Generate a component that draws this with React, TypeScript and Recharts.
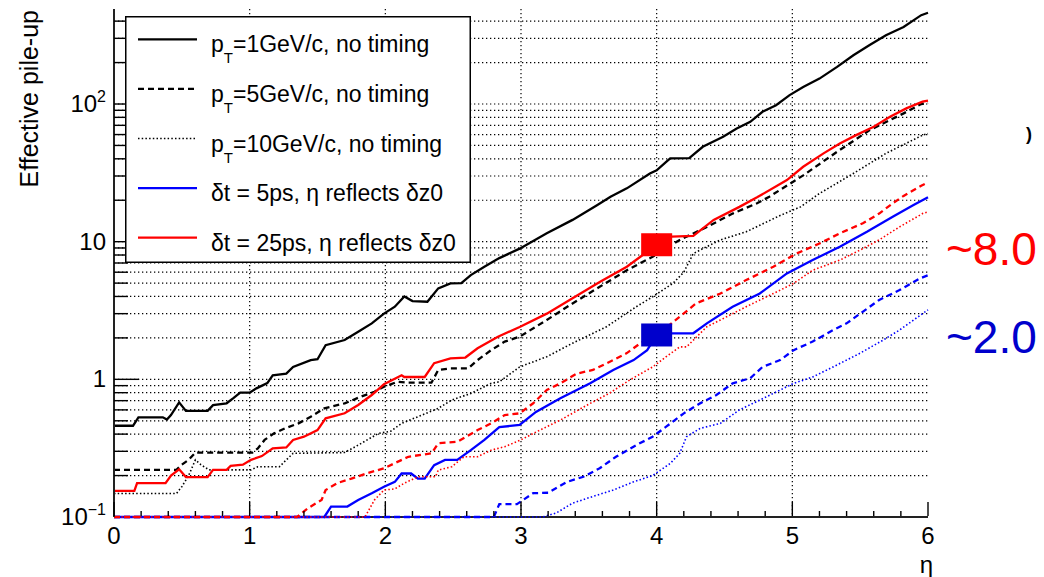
import { ComposedChart, Line, Scatter, XAxis, YAxis, CartesianGrid, Legend } from 'recharts';

const FONT = '"Liberation Sans", Arial, Helvetica, sans-serif';

// plot frame in page pixels (used only for tick / label placement)
const PLOT = { left: 114, right: 928, top: 9, bottom: 517 };

// [eta, effective pile-up]
const k1: [number, number][] = [
  [0, 0.46], [0.14, 0.46], [0.18, 0.53], [0.36, 0.53], [0.39, 0.51], [0.42, 0.55], [0.48, 0.68],
  [0.53, 0.59], [0.69, 0.59], [0.73, 0.65], [0.83, 0.67], [0.88, 0.73], [0.93, 0.8], [1.0, 0.8],
  [1.05, 0.86], [1.13, 0.94], [1.17, 1.07], [1.27, 1.1], [1.32, 1.23], [1.45, 1.38], [1.5, 1.4],
  [1.56, 1.77], [1.7, 1.93], [1.8, 2.22], [1.9, 2.55], [1.99, 3.0], [2.07, 3.37], [2.14, 4.0],
  [2.2, 3.7], [2.31, 3.66], [2.39, 4.58], [2.48, 4.98], [2.56, 5.0], [2.63, 5.72], [2.73, 6.58],
  [2.84, 7.6], [2.99, 8.9], [3.19, 11.5], [3.38, 14.4], [3.56, 18.4], [3.66, 21.2], [3.78, 24.4],
  [3.95, 31.3], [4.0, 33], [4.07, 38], [4.1, 40.3], [4.24, 40.5], [4.34, 48.9], [4.49, 57.8],
  [4.59, 66.5], [4.69, 74.3], [4.78, 87.8], [4.88, 98], [4.98, 116], [5.08, 133], [5.2, 153],
  [5.33, 186], [5.45, 226], [5.57, 268], [5.69, 316], [5.82, 363], [5.95, 442], [6.0, 460],
];
const k5: [number, number][] = [
  [0, 0.22], [0.46, 0.22], [0.5, 0.24], [0.55, 0.26], [0.6, 0.294], [1.02, 0.294], [1.06, 0.315],
  [1.11, 0.363], [1.18, 0.405], [1.26, 0.44], [1.36, 0.479], [1.45, 0.535], [1.55, 0.616],
  [1.7, 0.669], [1.82, 0.748], [1.92, 0.813], [1.99, 0.884], [2.09, 0.96], [2.17, 0.945],
  [2.34, 0.945], [2.39, 1.17], [2.48, 1.2], [2.61, 1.2], [2.68, 1.38], [2.78, 1.63], [2.88, 1.88],
  [2.99, 2.04], [3.19, 2.7], [3.38, 3.56], [3.58, 4.7], [3.78, 6.2], [3.97, 7.77], [4.17, 10.3],
  [4.37, 12.8], [4.56, 16], [4.74, 19], [4.83, 21.2], [5.08, 30.3], [5.33, 45], [5.57, 64.6],
  [5.82, 85.5], [5.95, 100], [6.0, 102],
];
const k10: [number, number][] = [
  [0, 0.148], [0.46, 0.148], [0.5, 0.166], [0.55, 0.2], [0.6, 0.26], [0.64, 0.24], [0.7, 0.22],
  [1.01, 0.22], [1.06, 0.232], [1.22, 0.232], [1.27, 0.26], [1.32, 0.29], [1.7, 0.294],
  [1.8, 0.333], [1.95, 0.405], [2.04, 0.42], [2.12, 0.479], [2.24, 0.535], [2.39, 0.616],
  [2.49, 0.707], [2.63, 0.79], [2.78, 0.935], [2.84, 0.96], [2.99, 1.23], [3.19, 1.46],
  [3.38, 1.83], [3.63, 2.41], [3.85, 3.37], [3.97, 3.98], [4.12, 4.98], [4.2, 6.0], [4.27, 8.2],
  [4.35, 9.0], [4.47, 10.3], [4.66, 11.8], [4.91, 15.5], [5.06, 17.9], [5.2, 22.4], [5.45, 31.3],
  [5.69, 43.8], [5.96, 59.4], [6.0, 61],
];
const b1: [number, number][] = [
  [0, 0.1], [1.55, 0.1], [1.6, 0.119], [1.72, 0.119], [1.8, 0.133], [1.9, 0.149], [1.99, 0.166],
  [2.07, 0.18], [2.12, 0.207], [2.19, 0.207], [2.24, 0.19], [2.29, 0.19], [2.36, 0.238],
  [2.44, 0.26], [2.53, 0.26], [2.63, 0.306], [2.73, 0.363], [2.84, 0.45], [2.99, 0.466],
  [3.11, 0.58], [3.29, 0.728], [3.51, 0.935], [3.68, 1.17], [3.83, 1.38], [3.93, 1.63],
  [4.0, 2.1], [4.11, 2.16], [4.27, 2.16], [4.37, 2.55], [4.56, 3.37], [4.76, 4.2], [4.96, 5.88],
  [5.15, 7.35], [5.35, 9.2], [5.55, 11.8], [5.74, 15.2], [5.89, 18.4], [6.0, 21],
];
const b5: [number, number][] = [
  [0, 0.1], [2.8, 0.1], [2.84, 0.124], [2.97, 0.124], [3.09, 0.149], [3.2, 0.15], [3.34, 0.18],
  [3.46, 0.196], [3.58, 0.226], [3.7, 0.274], [3.85, 0.333], [3.97, 0.383], [4.07, 0.453],
  [4.2, 0.566], [4.32, 0.669], [4.44, 0.769], [4.56, 0.935], [4.69, 1.02], [4.78, 1.23],
  [4.91, 1.38], [5.01, 1.63], [5.15, 1.88], [5.3, 2.28], [5.4, 2.55], [5.64, 3.77], [5.79, 4.45],
  [5.94, 5.41], [6.0, 5.7],
];
const b10: [number, number][] = [
  [0, 0.1], [3.16, 0.1], [3.26, 0.107], [3.38, 0.126], [3.53, 0.141], [3.68, 0.157], [3.83, 0.18],
  [3.97, 0.2], [4.1, 0.245], [4.17, 0.29], [4.22, 0.383], [4.32, 0.44], [4.47, 0.479],
  [4.61, 0.6], [4.76, 0.707], [4.91, 0.836], [5.01, 0.935], [5.15, 1.04], [5.3, 1.23],
  [5.5, 1.55], [5.67, 1.93], [5.79, 2.28], [6.0, 3.2],
];
const r1: [number, number][] = [
  [0, 0.155], [0.15, 0.155], [0.17, 0.176], [0.38, 0.176], [0.42, 0.2], [0.48, 0.222],
  [0.53, 0.195], [0.69, 0.195], [0.73, 0.22], [0.83, 0.22], [0.86, 0.235], [0.95, 0.24],
  [1.01, 0.26], [1.09, 0.277], [1.17, 0.315], [1.27, 0.32], [1.32, 0.363], [1.4, 0.383],
  [1.5, 0.428], [1.56, 0.521], [1.7, 0.567], [1.8, 0.651], [1.9, 0.769], [1.99, 0.92],
  [2.12, 1.07], [2.14, 1.04], [2.29, 1.04], [2.36, 1.31], [2.48, 1.42], [2.59, 1.44],
  [2.68, 1.68], [2.83, 2.04], [2.99, 2.4], [3.19, 3.0], [3.38, 3.88], [3.58, 5.1], [3.78, 6.58],
  [3.88, 7.77], [4.0, 9.5], [4.11, 10.9], [4.27, 11.0], [4.42, 14.4], [4.61, 17.9], [4.74, 21],
  [4.96, 28], [5.08, 35], [5.23, 43.8], [5.35, 51.7], [5.47, 59.4], [5.6, 68.3], [5.72, 80.7],
  [5.84, 92.9], [5.96, 104], [6.0, 106],
];
const r5: [number, number][] = [
  [0, 0.1], [1.35, 0.1], [1.43, 0.116], [1.53, 0.133], [1.56, 0.157], [1.65, 0.177], [1.75, 0.19],
  [1.86, 0.207], [1.99, 0.226], [2.17, 0.274], [2.34, 0.29], [2.39, 0.343], [2.53, 0.352],
  [2.68, 0.428], [2.78, 0.479], [2.88, 0.55], [2.99, 0.566], [3.09, 0.67], [3.19, 0.836],
  [3.29, 0.935], [3.41, 1.1], [3.53, 1.17], [3.68, 1.38], [3.78, 1.55], [3.88, 1.83],
  [4.02, 2.16], [4.17, 2.85], [4.29, 3.56], [4.47, 4.2], [4.66, 5.26], [4.86, 6.58], [5.03, 8.2],
  [5.2, 9.7], [5.35, 11.5], [5.52, 13.6], [5.64, 16], [5.74, 19], [5.82, 21.5], [5.95, 25.5],
  [6.0, 27],
];
const r10: [number, number][] = [
  [0, 0.1], [1.85, 0.1], [1.92, 0.133], [1.99, 0.157], [2.07, 0.16], [2.14, 0.176], [2.24, 0.196],
  [2.37, 0.196], [2.39, 0.219], [2.49, 0.232], [2.58, 0.274], [2.68, 0.274], [2.78, 0.306],
  [2.88, 0.324], [2.99, 0.36], [3.14, 0.428], [3.29, 0.506], [3.51, 0.669], [3.65, 0.79],
  [3.8, 0.988], [3.97, 1.23], [4.07, 1.46], [4.17, 1.72], [4.22, 1.72], [4.37, 2.41], [4.47, 2.7],
  [4.66, 3.37], [4.86, 4.2], [5.01, 4.98], [5.15, 6.2], [5.35, 7.35], [5.5, 8.7], [5.64, 10.3],
  [5.79, 12.8], [5.96, 16], [6.0, 16.5],
];

// working points marked with squares
const redMarker: [number, number][] = [[4.0, 9.5]];
const blueMarker: [number, number][] = [[4.0, 2.1]];

// bottom edge of the frame (drawn as a series so the curves sitting on it stay on top)
const frameBottom: [number, number][] = [[0, 0.1], [6, 0.1]];

const etaTicks = [0, 0.2, 0.4, 0.6, 0.8, 1, 1.2, 1.4, 1.6, 1.8, 2, 2.2, 2.4, 2.6, 2.8, 3, 3.2, 3.4, 3.6, 3.8, 4, 4.2, 4.4, 4.6, 4.8, 5, 5.2, 5.4, 5.6, 5.8, 6];
const pileTicks = [0.1, 0.2, 0.3, 0.4, 0.5, 0.6, 0.7, 0.8, 0.9, 1, 2, 3, 4, 5, 6, 7, 8, 9, 10, 20, 30, 40, 50, 60, 70, 80, 90, 100, 200, 300, 400];
const pileMajor = [0.1, 1, 10, 100];
const gridEta = [1, 2, 3, 4, 5];
const gridPile = [0.2, 0.3, 0.4, 0.5, 0.6, 0.7, 0.8, 0.9, 1, 2, 3, 4, 5, 6, 7, 8, 9, 10, 20, 30, 40, 50, 60, 70, 80, 90, 100, 200, 300, 400];

const toPts = (arr: [number, number][]) => arr.map(([eta, v]) => ({ eta, v }));

const STYLE = {
  solid: { width: 2.3, dash: undefined as string | undefined },
  dashed: { width: 2.3, dash: '6 4' },
  dotted: { width: 1.6, dash: '1.5 2.2' },
};

// draw order: black, blue, red (red dashes lie over blue on the axis)
const series = [
  { key: 'k1', pts: k1, color: '#000000', style: STYLE.solid },
  { key: 'k5', pts: k5, color: '#000000', style: STYLE.dashed },
  { key: 'k10', pts: k10, color: '#000000', style: STYLE.dotted },
  { key: 'b1', pts: b1, color: '#0000ff', style: STYLE.solid },
  { key: 'b5', pts: b5, color: '#0000ff', style: STYLE.dashed },
  { key: 'b10', pts: b10, color: '#0000ff', style: STYLE.dotted },
  { key: 'r1', pts: r1, color: '#ff0000', style: STYLE.solid },
  { key: 'r5', pts: r5, color: '#ff0000', style: STYLE.dashed },
  { key: 'r10', pts: r10, color: '#ff0000', style: STYLE.dotted },
];

const legendRows = [
  { color: '#000000', style: STYLE.solid, pre: 'p', sub: 'T', post: '=1GeV/c, no timing' },
  { color: '#000000', style: STYLE.dashed, pre: 'p', sub: 'T', post: '=5GeV/c, no timing' },
  { color: '#000000', style: STYLE.dotted, pre: 'p', sub: 'T', post: '=10GeV/c, no timing' },
  { color: '#0000ff', style: STYLE.solid, pre: 'δt = 5ps, η reflects δz0', sub: '', post: '' },
  { color: '#ff0000', style: STYLE.solid, pre: 'δt = 25ps, η reflects δz0', sub: '', post: '' },
];

function EtaTick({ x, payload }: any) {
  const v = payload.value;
  const major = Math.abs(v - Math.round(v)) < 1e-6;
  return (
    <g>
      <line x1={x} x2={x} y1={PLOT.bottom - 1} y2={PLOT.bottom - (major ? 15 : 6)} stroke="#000" strokeWidth={1.4} />
      {major && (
        <text x={x} y={544} textAnchor="middle" fontSize={24} fontFamily={FONT} fill="#000">
          {Math.round(v)}
        </text>
      )}
    </g>
  );
}

function PileTick({ y, payload }: any) {
  const v = payload.value;
  const major = pileMajor.includes(v);
  let label: any = null;
  if (v === 0.1) label = (<><tspan>10</tspan><tspan dy={-10} fontSize={16}>−1</tspan></>);
  else if (v === 1) label = '1';
  else if (v === 10) label = '10';
  else if (v === 100) label = (<><tspan>10</tspan><tspan dy={-10} fontSize={16}>2</tspan></>);
  return (
    <g>
      {v !== 0.1 && (
        <line x1={PLOT.left} x2={PLOT.left + (major ? 25 : 14)} y1={y} y2={y} stroke="#000" strokeWidth={1.4} />
      )}
      {label !== null && (
        <text x={106} y={y + 8} textAnchor="end" fontSize={24} fontFamily={FONT} fill="#000">
          {label}
        </text>
      )}
    </g>
  );
}

function YTitle() {
  return (
    <text transform="translate(38,10) rotate(-90)" textAnchor="end" fontSize={25} fontFamily={FONT} fill="#000">
      Effective pile-up
    </text>
  );
}

function XTitle() {
  return (
    <text x={933} y={573} textAnchor="end" fontSize={24} fontFamily={FONT} fill="#000">
      η
    </text>
  );
}

function LegendBox() {
  return (
    <svg width={346} height={247} style={{ display: 'block' }}>
      <rect x={0.75} y={0.75} width={344.5} height={245.5} fill="#fff" stroke="#000" strokeWidth={1.5} />
      {legendRows.map((row, i) => {
        const cy = 23.3 + i * 49.6;
        return (
          <g key={i}>
            <line x1={13} x2={72} y1={cy} y2={cy} stroke={row.color} strokeWidth={row.style.width} strokeDasharray={row.style.dash} />
            <text x={86} y={cy + 13} fontSize={23} fontFamily={FONT} fill="#000">
              <tspan>{row.pre}</tspan>
              {row.sub && <tspan dy={11} fontSize={15}>{row.sub}</tspan>}
              {row.sub && <tspan dy={-11}>{row.post}</tspan>}
            </text>
          </g>
        );
      })}
    </svg>
  );
}

const square = (color: string) => (p: any) => (
  <rect x={p.cx - 15.5} y={p.cy - 11.5} width={31} height={23} fill={color} />
);

export default function App() {
  return (
    <div style={{ position: 'absolute', left: 0, top: 0, width: 1044, height: 577, background: '#fff' }}>
      <ComposedChart width={1044} height={577} margin={{ top: 9, right: 116, bottom: 0, left: 14 }}>
        <CartesianGrid
          horizontalValues={gridPile}
          verticalValues={gridEta}
          stroke="#000"
          strokeWidth={1.2}
          strokeDasharray="1.3 2.7"
        />
        <XAxis
          dataKey="eta"
          type="number"
          domain={[0, 6]}
          ticks={etaTicks}
          interval={0}
          tick={<EtaTick />}
          tickLine={false}
          tickSize={0}
          height={60}
          axisLine={false}
          label={<XTitle />}
        />
        <XAxis xAxisId="top" orientation="top" type="number" domain={[0, 6]} tick={false} tickLine={false} height={0} axisLine={{ stroke: '#222', strokeWidth: 2 }} />
        <YAxis
          dataKey="v"
          type="number"
          scale="log"
          domain={[0.1, 490]}
          ticks={pileTicks}
          interval={0}
          tick={<PileTick />}
          tickLine={false}
          tickSize={0}
          width={100}
          axisLine={{ stroke: '#222', strokeWidth: 2 }}
          label={<YTitle />}
        />
        <YAxis yAxisId="right" orientation="right" type="number" domain={[0, 1]} tick={false} tickLine={false} width={0} axisLine={{ stroke: '#222', strokeWidth: 2 }} />
        <Line
          data={toPts(frameBottom)}
          dataKey="v"
          type="linear"
          stroke="#222"
          strokeWidth={2}
          dot={false}
          activeDot={false}
          isAnimationActive={false}
        />
        {series.map((s) => (
          <Line
            key={s.key}
            data={toPts(s.pts)}
            dataKey="v"
            type="linear"
            stroke={s.color}
            strokeWidth={s.style.width}
            strokeDasharray={s.style.dash}
            dot={false}
            activeDot={false}
            isAnimationActive={false}
          />
        ))}
        <Scatter data={toPts(redMarker)} dataKey="v" shape={square('#ff0000')} isAnimationActive={false} />
        <Scatter data={toPts(blueMarker)} dataKey="v" shape={square('#0000cc')} isAnimationActive={false} />
        <Legend
          layout="horizontal"
          verticalAlign="middle"
          align="center"
          wrapperStyle={{ left: 125, top: 16, width: 346, height: 247 }}
          content={() => <LegendBox />}
        />
      </ComposedChart>
      <svg width={1044} height={577} style={{ position: 'absolute', left: 0, top: 0, pointerEvents: 'none' }}>
        <text x={946} y={265} fontSize={46} fontFamily={FONT} fill="#ff0000">~8.0</text>
        <text x={946} y={353} fontSize={46} fontFamily={FONT} fill="#0000cc">~2.0</text>
        <text x={1026} y={140} fontSize={18} fontWeight="bold" fontFamily={FONT} fill="#000">)</text>
      </svg>
    </div>
  );
}
